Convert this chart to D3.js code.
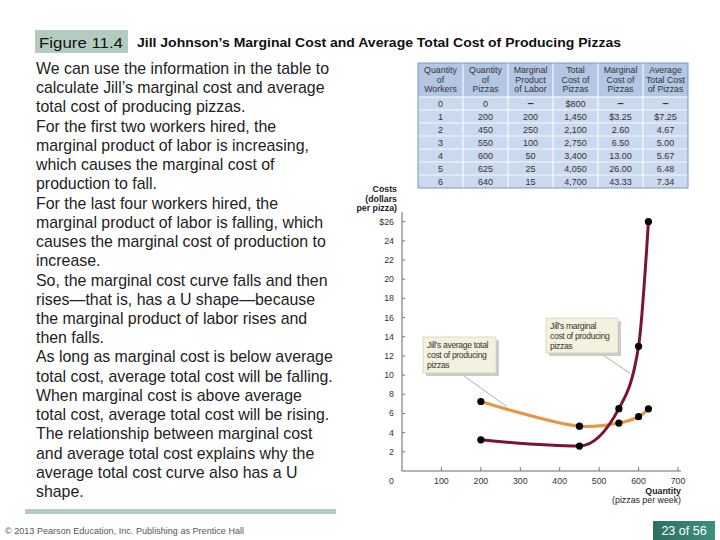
<!DOCTYPE html>
<html><head><meta charset="utf-8">
<script src="https://cdn.jsdelivr.net/npm/d3@7/dist/d3.min.js"></script>
<style>body{margin:0;background:#fff}svg{display:block}</style>
</head><body>
<script>
// ---- data ----
const tableHeaders = [["Quantity","of","Workers"],["Quantity","of","Pizzas"],["Marginal","Product","of Labor"],["Total","Cost of","Pizzas"],["Marginal","Cost of","Pizzas"],["Average","Total Cost","of Pizzas"]];
const workers = ["0","1","2","3","4","5","6"];
const pizzas = [0,200,450,550,600,625,640];
const mplLabels = ["–","200","250","100","50","25","15"];
const totalCostLabels = ["$800","1,450","2,100","2,750","3,400","4,050","4,700"];
const mcLabels = ["–","$3.25","2.60","6.50","13.00","26.00","43.33"];
const atcLabels = ["–","$7.25","4.67","5.00","5.67","6.48","7.34"];
const mcQty = [200,450,550,600,625];
const mcValues = [3.25,2.60,6.50,13.00,26.00];
const atcQty = [200,450,550,600,625];
const atcValues = [7.25,4.67,5.00,5.67,6.48];
const yTicks = [2,4,6,8,10,12,14,16,18,20,22,24,26];
const xTicks = [100,200,300,400,500,600,700];
const bodyLines = [
"We can use the information in the table to",
"calculate Jill’s marginal cost and average",
"total cost of producing pizzas.",
"For the first two workers hired, the",
"marginal product of labor is increasing,",
"which causes the marginal cost of",
"production to fall.",
"For the last four workers hired, the",
"marginal product of labor is falling, which",
"causes the marginal cost of production to",
"increase.",
"So, the marginal cost curve falls and then",
"rises—that is, has a U shape—because",
"the marginal product of labor rises and",
"then falls.",
"As long as marginal cost is below average",
"total cost, average total cost will be falling.",
"When marginal cost is above average",
"total cost, average total cost will be rising.",
"The relationship between marginal cost",
"and average total cost explains why the",
"average total cost curve also has a U",
"shape."];

const W=720,H=540;
const svg=d3.select("body").append("svg").attr("width",W).attr("height",H);
const F="Liberation Sans, Arial, sans-serif";

// title
svg.append("rect").attr("x",35).attr("y",30).attr("width",93).attr("height",23).attr("fill","#b4ccbf");
svg.append("text").attr("x",39).attr("y",47.5).attr("font-family",F).attr("font-size",15.5).attr("fill","#111")
  .attr("textLength",84).attr("lengthAdjust","spacingAndGlyphs").text("Figure 11.4");
svg.append("text").attr("x",137).attr("y",47).attr("font-family",F).attr("font-size",13.2).attr("font-weight","bold").attr("fill","#111")
  .attr("textLength",484).attr("lengthAdjust","spacingAndGlyphs")
  .text("Jill Johnson’s Marginal Cost and Average Total Cost of Producing Pizzas");

// body text
svg.append("g").selectAll("text").data(bodyLines).join("text")
  .attr("x",36).attr("y",(d,i)=>74+i*19.23).attr("font-family",F).attr("font-size",15.9).attr("fill","#222").text(d=>d);

// bottom bar & footer
svg.append("rect").attr("x",25).attr("y",509).attr("width",311).attr("height",5).attr("fill","#b4ccbf");
svg.append("text").attr("x",5).attr("y",534).attr("font-family",F).attr("font-size",9).attr("fill","#555")
  .attr("textLength",239).attr("lengthAdjust","spacing")
  .text("© 2013 Pearson Education, Inc. Publishing as Prentice Hall");
const grad=svg.append("defs").append("linearGradient").attr("id","pg").attr("x1",0).attr("y1",0).attr("x2",1).attr("y2",0);
grad.append("stop").attr("offset","0").attr("stop-color","#2a6f63");
grad.append("stop").attr("offset","1").attr("stop-color","#3f8f7e");
svg.append("rect").attr("x",653).attr("y",521).attr("width",62).attr("height",19).attr("fill","url(#pg)");
svg.append("text").attr("x",684).attr("y",535).attr("text-anchor","middle").attr("font-family",F).attr("font-size",12.5).attr("fill","#fff").text("23 of 56");

// table
const tx=418, ty=63, colW=45, headH=34, rowH=13;
const cols=[workers,pizzas.map(String),mplLabels,totalCostLabels,mcLabels,atcLabels];
const tg=svg.append("g").attr("font-family",F).attr("font-size",8.8).attr("fill","#333");
tg.append("rect").attr("x",tx).attr("y",ty).attr("width",colW*6).attr("height",headH+rowH*7).attr("fill","#cbd9ee");
tg.append("rect").attr("x",tx).attr("y",ty).attr("width",colW*6).attr("height",headH).attr("fill","#b3c7e4");
for(let r=1;r<7;r++) tg.append("line").attr("x1",tx).attr("x2",tx+colW*6).attr("y1",ty+headH+r*rowH).attr("y2",ty+headH+r*rowH).attr("stroke","#fff").attr("stroke-width",0.8);
tg.append("line").attr("x1",tx).attr("x2",tx+colW*6).attr("y1",ty+headH).attr("y2",ty+headH).attr("stroke","#fff").attr("stroke-width",1.2);
for(let c=1;c<6;c++) tg.append("line").attr("x1",tx+c*colW).attr("x2",tx+c*colW).attr("y1",ty).attr("y2",ty+headH+rowH*7).attr("stroke","#fff").attr("stroke-width",1);
tg.append("rect").attr("x",tx).attr("y",ty).attr("width",colW*6).attr("height",headH+rowH*7).attr("fill","none").attr("stroke","#7b97c4").attr("stroke-width",1);
tableHeaders.forEach((h,c)=>{
  h.forEach((s,k)=>tg.append("text").attr("x",tx+c*colW+colW/2).attr("y",ty+10+k*9.5).attr("text-anchor","middle").text(s));
  cols[c].forEach((s,r)=>tg.append("text").attr("x",tx+c*colW+colW/2).attr("y",ty+headH+r*rowH+9.5).attr("text-anchor","middle")
     .attr("font-size",s==="–"?11:9).attr("font-weight",s==="–"?"bold":"normal").text(s));
});

// chart
const x=d3.scaleLinear().domain([0,700]).range([402,678]);
const y=d3.scaleLinear().domain([0,26]).range([471,221.7]);
const cg=svg.append("g").attr("font-family",F).attr("font-size",8.8).attr("fill","#333");
cg.append("line").attr("x1",402).attr("x2",402).attr("y1",212).attr("y2",471).attr("stroke","#666");
cg.append("line").attr("x1",402).attr("x2",681).attr("y1",471).attr("y2",471).attr("stroke","#666");
cg.selectAll(".yt").data(yTicks).join("line").attr("x1",402).attr("x2",405).attr("y1",d=>y(d)).attr("y2",d=>y(d)).attr("stroke","#777");
cg.selectAll(".yl").data(yTicks).join("text").attr("x",394).attr("y",d=>y(d)+3).attr("text-anchor","end").text(d=>d===26?"$26":d);
cg.append("text").attr("x",394).attr("y",484).attr("text-anchor","end").text("0");
cg.selectAll(".xt").data(xTicks).join("line").attr("x1",d=>x(d)).attr("x2",d=>x(d)).attr("y1",471).attr("y2",467).attr("stroke","#777");
cg.selectAll(".xl").data(xTicks).join("text").attr("x",d=>x(d)).attr("y",484).attr("text-anchor","middle").text(d=>d);
["Costs","(dollars","per pizza)"].forEach((s,i)=>cg.append("text").attr("x",397).attr("y",192+i*9.5).attr("text-anchor","end").attr("font-weight","bold").attr("fill","#222").text(s));
cg.append("text").attr("x",681).attr("y",494).attr("text-anchor","end").attr("font-weight","bold").attr("fill","#222").text("Quantity");
cg.append("text").attr("x",681).attr("y",503).attr("text-anchor","end").attr("fill","#222").text("(pizzas per week)");

// annotations
function note(bx,by,bw,bh,lines,from,to){
  cg.append("line").attr("x1",from[0]).attr("y1",from[1]).attr("x2",to[0]).attr("y2",to[1]).attr("stroke","#777").attr("stroke-width",0.6);
  cg.append("rect").attr("x",bx+3).attr("y",by+3).attr("width",bw).attr("height",bh).attr("fill","#ccc");
  cg.append("rect").attr("x",bx).attr("y",by).attr("width",bw).attr("height",bh).attr("fill","#f4f2de").attr("stroke","#c8c6b6").attr("stroke-width",0.6);
  lines.forEach((s,i)=>cg.append("text").attr("x",bx+4).attr("y",by+11+i*10).attr("font-size",8.6).attr("letter-spacing",-0.35).attr("fill","#333").text(s));
}
note(423,337,73,36,["Jill’s average total","cost of producing","pizzas"],[460,373],[x(266),y(6.7)]);
note(546,318,72,35,["Jill’s marginal","cost of producing","pizzas"],[600,353],[x(578),y(10.2)]);

const mcData=mcQty.map((q,i)=>[q,mcValues[i]]);
const atcData=atcQty.map((q,i)=>[q,atcValues[i]]);
cg.append("path").datum(atcData).attr("fill","none").attr("stroke","#e8953f").attr("stroke-width",3)
  .attr("d",d3.line().x(d=>x(d[0])).y(d=>y(d[1])).curve(d3.curveCatmullRom.alpha(0.5)));
cg.append("path").datum(mcData).attr("fill","none").attr("stroke","#7d1238").attr("stroke-width",3)
  .attr("d",d3.line().x(d=>x(d[0])).y(d=>y(d[1])).curve(d3.curveMonotoneX));
cg.selectAll(".pa").data(atcData).join("circle").attr("cx",d=>x(d[0])).attr("cy",d=>y(d[1])).attr("r",3.6).attr("fill","#000");
cg.selectAll(".pm").data(mcData).join("circle").attr("cx",d=>x(d[0])).attr("cy",d=>y(d[1])).attr("r",3.6).attr("fill","#000");
</script>
</body></html>
